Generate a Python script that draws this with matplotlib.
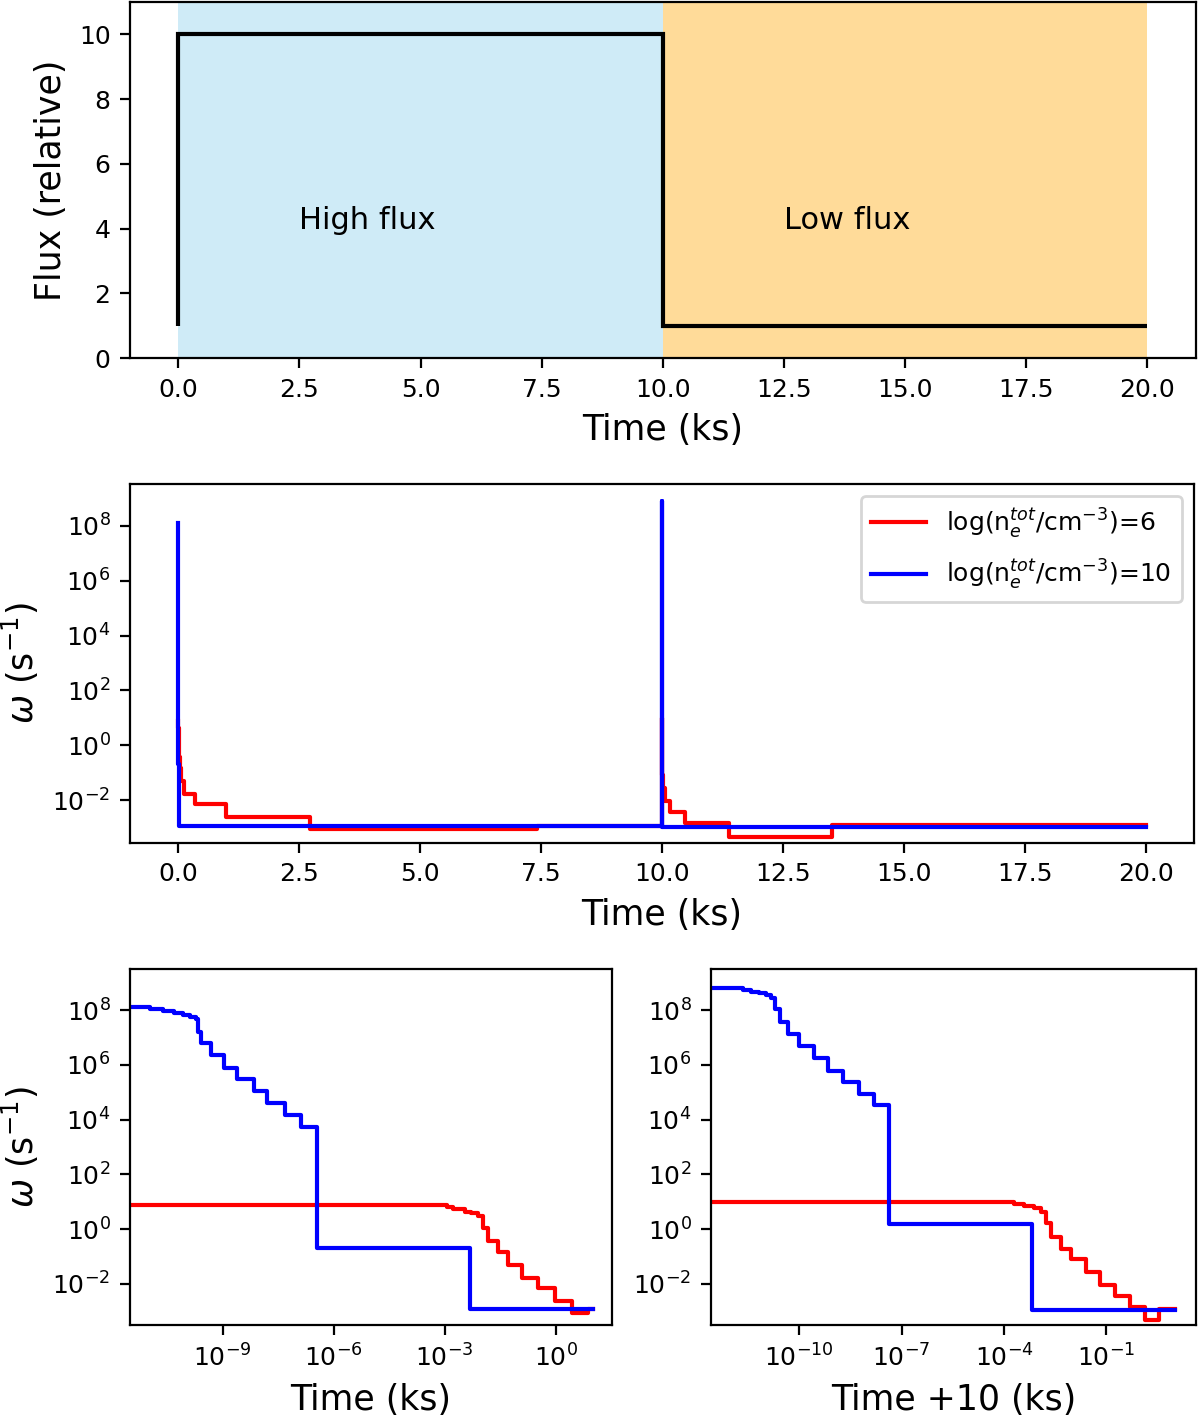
import matplotlib
matplotlib.use("Agg")
import matplotlib.pyplot as plt
import numpy as np

# --- light curve: relative flux in two intervals ---
flux_edges = [0, 10, 20]        # ks
flux_levels = [10, 1]
flux_start = 1
phase_names = ["High flux", "Low flux"]

# --- omega(t) step curves (log10 values) ---
# each phase starts at t=0; edges in log10(ks), values in log10(s^-1)
# high flux phase, log n = 6
red_hi_logt = [-2.95, -2.77, -2.46, -2.28, -2.10, -1.96, -1.83, -1.56, -1.29,
               -0.90, -0.47, -0.01, 0.435, 0.87, 1.0]
red_hi_logw = [0.88, 0.82, 0.72, 0.64, 0.58, 0.48, 0.03, -0.43, -0.82, -1.31,
               -1.77, -2.15, -2.61, -3.05, -2.93]
# high flux phase, log n = 10
blue_hi_logt = [-10.97, -10.61, -10.30, -10.07, -9.89, -9.71, -9.67, -9.58,
                -9.32, -8.97, -8.60, -8.16, -7.80, -7.32, -6.87, -6.45, -2.32, 1.0]
blue_hi_logw = [8.12, 8.04, 7.97, 7.88, 7.82, 7.73, 7.66, 7.21, 6.81, 6.36,
                5.89, 5.47, 5.05, 4.59, 4.17, 3.74, -0.67, -2.93]
# low flux phase (time since 10 ks), log n = 6
red_lo_logt = [-3.71, -3.41, -3.12, -2.92, -2.77, -2.61, -2.33, -2.04, -1.60,
               -1.19, -0.76, -0.32, 0.14, 0.545, 1.0]
red_lo_logw = [0.98, 0.92, 0.86, 0.76, 0.64, 0.21, -0.27, -0.73, -1.10, -1.55,
               -2.04, -2.44, -2.85, -3.33, -2.91]
# low flux phase, log n = 10
blue_lo_logt = [-12.7, -11.65, -11.40, -11.16, -10.96, -10.81, -10.71, -10.57,
                -10.32, -10.0, -9.56, -9.16, -8.72, -8.24, -7.82, -7.38, -3.18, 1.0]
blue_lo_logw = [8.92, 8.79, 8.73, 8.67, 8.61, 8.54, 8.44, 8.03, 7.56, 7.11,
                6.68, 6.25, 5.79, 5.36, 4.95, 4.55, 0.20, -2.96]

labels = [r"log(n$_e^{tot}$/cm$^{-3}$)=6", r"log(n$_e^{tot}$/cm$^{-3}$)=10"]
colors = ["red", "blue"]
omega_ticks = [1e-2, 1e0, 1e2, 1e4, 1e6, 1e8]

plt.rcParams["xtick.labelsize"] = 9
plt.rcParams["ytick.labelsize"] = 9
plt.rcParams["axes.labelsize"] = 12.5
plt.rcParams["legend.fontsize"] = 9


def edges_values(logt, logw):
    edges = np.concatenate([[0.0], 10.0 ** np.array(logt)])
    vals = 10.0 ** np.array(logw)
    return edges, vals


def step_xy(edges, vals):
    return edges, np.append(vals, vals[-1])


hi = [edges_values(red_hi_logt, red_hi_logw), edges_values(blue_hi_logt, blue_hi_logw)]
lo = [edges_values(red_lo_logt, red_lo_logw), edges_values(blue_lo_logt, blue_lo_logw)]

fig = plt.figure(figsize=(6, 7.11), dpi=200)

# top: flux
ax1 = fig.add_axes([0.1083, 0.7482, 0.888, 0.2504])
ax1.axvspan(flux_edges[0], flux_edges[1], color="skyblue", alpha=0.4, lw=0)
ax1.axvspan(flux_edges[1], flux_edges[2], color="orange", alpha=0.4, lw=0)
ax1.stairs(flux_levels, flux_edges, baseline=flux_start, color="k", lw=1.5)
ax1.text(flux_edges[0] + 2.5, 4, phase_names[0], fontsize=11)
ax1.text(flux_edges[1] + 2.5, 4, phase_names[1], fontsize=11)
ax1.set_ylim(0, 11)
ax1.set_xlabel("Time (ks)")
ax1.set_ylabel("Flux (relative)")

# middle: omega over the whole run
ax2 = fig.add_axes([0.1083, 0.4072, 0.8867, 0.2525])
for (e1, v1), (e2, v2), c, lab in zip(hi, lo, colors, labels):
    edges = np.concatenate([e1[:-1], e2 + flux_edges[1]])
    vals = np.concatenate([v1, v2])
    x, y = step_xy(edges, vals)
    ax2.step(x, y, where="post", color=c, lw=1.5, label=lab)
ax2.set_yscale("log")
ax2.set_ylim(10 ** -3.56, 10 ** 9.53)
ax2.set_yticks(omega_ticks)
ax2.yaxis.set_minor_locator(matplotlib.ticker.NullLocator())
ax2.set_xlabel("Time (ks)")
ax2.set_ylabel(r"$\omega$ (s$^{-1}$)")
ax2.legend(loc="upper right", handlelength=2.2, labelspacing=0.7)

# bottom: each phase on log time
ax3 = fig.add_axes([0.1083, 0.0682, 0.4017, 0.2504])
ax4 = fig.add_axes([0.5925, 0.0682, 0.404, 0.2504])
for ax, phase in [(ax3, hi), (ax4, lo)]:
    for (e, v), c in zip(phase, colors):
        x, y = step_xy(e, v)
        ax.step(x, y, where="post", color=c, lw=1.5)
    ax.set_xscale("log")
    ax.set_yscale("log")
    ax.set_ylim(10 ** -3.5, 10 ** 9.5)
    ax.set_yticks(omega_ticks)
    ax.yaxis.set_minor_locator(matplotlib.ticker.NullLocator())

ax3.set_xlim(10 ** -11.5, 10 ** 1.52)
ax3.set_xticks([1e-9, 1e-6, 1e-3, 1e0])
ax3.xaxis.set_minor_locator(matplotlib.ticker.NullLocator())
ax3.set_xlabel("Time (ks)")
ax3.set_ylabel(r"$\omega$ (s$^{-1}$)")

ax4.set_xlim(10 ** -12.58, 10 ** 1.62)
ax4.set_xticks([1e-10, 1e-7, 1e-4, 1e-1])
ax4.xaxis.set_minor_locator(matplotlib.ticker.NullLocator())
ax4.set_xlabel("Time +10 (ks)")

fig.savefig("out.png", dpi=200)
